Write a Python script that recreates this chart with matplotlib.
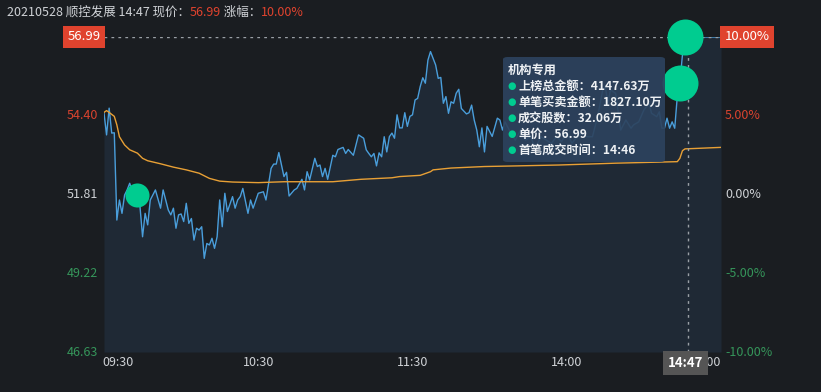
import matplotlib
matplotlib.use("Agg")
import matplotlib.pyplot as plt
from matplotlib.patches import FancyBboxPatch

plt.rcParams['font.family'] = ['Noto Sans CJK SC', 'DejaVu Sans']

# ---------------- data ----------------
stock_title = "20210528 顺控发展 14:47 现价："
cur_price = "56.99"
chg_label = " 涨幅："
chg_value = "10.00%"
prev_close = 51.81

price_min = [0, 1, 2, 3, 4, 5, 6, 7, 8, 9, 10, 11, 12, 13, 14, 15, 16, 17, 18, 20,
             22, 23, 25, 26, 27, 28, 29, 30, 31, 32, 33, 34, 35, 36, 37, 38, 39, 40,
             41, 42, 43, 44, 45, 46, 47, 48, 50, 51, 52, 53, 54, 56, 57, 58, 60, 62,
             63, 65, 66, 67, 68, 70, 71, 72, 74, 75, 77, 78, 79, 80, 82, 83, 84, 85,
             86, 87, 89, 90, 91, 93, 94, 95, 97, 99, 101, 102, 103, 104, 105, 106,
             107, 108, 109, 110, 111, 112, 113, 114, 115, 116, 117, 118, 119, 120,
             121, 122, 123, 124, 125, 126, 127, 129, 130, 131, 132, 133, 134, 135,
             136, 137, 138, 139, 141, 142, 143, 144, 145, 146, 147, 148, 149, 151,
             153, 154, 155, 156, 158, 160, 162, 164, 166, 167, 168, 170, 172, 174,
             176, 178, 180, 182, 184, 186, 188, 190, 192, 194, 195, 196, 197, 199,
             201, 203, 205, 206, 208, 210, 212, 213, 215, 216, 217, 218, 219, 220,
             221, 222, 223, 224, 225, 226, 240]
price_val = [54.49, 53.77, 54.65, 53.83, 53.84, 50.97, 51.63, 51.19, 51.79, 51.96,
             52.18, 51.90, 52.05, 51.85, 51.41, 50.42, 51.19, 50.81, 51.63, 51.96,
             51.36, 51.96, 51.30, 51.14, 51.36, 50.70, 51.14, 51.17, 50.92, 51.52,
             50.86, 51.02, 50.31, 50.70, 50.64, 50.75, 49.71, 50.20, 50.15, 50.37,
             50.04, 50.42, 51.63, 50.75, 51.85, 51.25, 51.74, 51.36, 51.63, 51.74,
             52.01, 51.19, 51.63, 51.36, 51.85, 51.90, 51.63, 52.67, 52.81, 52.81,
             53.19, 52.40, 52.54, 51.76, 51.96, 52.01, 52.31, 51.96, 52.56, 52.29,
             53.00, 52.73, 52.78, 52.40, 52.67, 52.31, 53.10, 53.05, 53.29, 53.36,
             53.16, 53.29, 53.10, 53.77, 53.66, 53.28, 53.16, 53.05, 53.16, 52.75,
             53.18, 53.05, 53.71, 53.21, 53.71, 53.83, 53.66, 54.43, 54.00, 54.00,
             54.50, 54.05, 54.38, 54.43, 54.92, 54.97, 55.36, 55.65, 55.47, 56.23,
             56.51, 56.07, 55.63, 55.66, 54.81, 55.03, 54.48, 54.86, 54.81, 55.14,
             55.27, 54.64, 54.46, 54.50, 54.75, 54.26, 53.93, 53.38, 54.00, 53.21,
             54.05, 53.72, 54.32, 54.26, 53.93, 54.20, 53.87, 53.60, 53.93, 53.60,
             53.71, 53.49, 53.38, 53.71, 53.60, 53.49, 53.71, 53.55, 53.85, 53.50,
             53.70, 53.82, 53.71, 53.71, 54.37, 55.25, 55.36, 54.81, 55.25, 55.14,
             53.93, 54.26, 53.99, 54.10, 54.20, 54.59, 54.81, 54.48, 54.37, 54.53,
             53.99, 53.99, 54.32, 53.99, 54.20, 53.99, 55.03, 55.49, 56.40, 56.99,
             56.99]

avg_min = [0, 1, 2, 4, 5, 6, 8, 10, 13, 15, 17, 22, 27, 32, 37, 41, 45, 50, 60, 70,
           89, 100, 112, 115, 123, 127, 128, 135, 148, 160, 177, 199, 223, 224, 225,
           226, 240]
avg_val = [54.51, 54.57, 54.51, 54.38, 54.10, 53.71, 53.44, 53.28, 53.17, 53.00,
           52.92, 52.82, 52.71, 52.62, 52.51, 52.34, 52.25, 52.22, 52.20, 52.23,
           52.23, 52.31, 52.36, 52.40, 52.44, 52.56, 52.62, 52.68, 52.73, 52.75,
           52.78, 52.84, 52.89, 53.00, 53.25, 53.31, 53.36]

# trade markers (minute index, price, kind)
mark_min = [13, 224, 226]
mark_val = [51.81, 55.49, 56.99]
mark_big = [False, True, True]

left_ticks = [56.99, 54.40, 51.81, 49.22, 46.63]
left_labels = ["56.99", "54.40", "51.81", "49.22", "46.63"]
right_labels = ["10.00%", "5.00%", "0.00%", "-5.00%", "-10.00%"]
time_ticks = [0, 60, 120, 180, 240]
time_labels = ["09:30", "10:30", "11:30", "14:00", "15:00"]
cursor_min = 227
cursor_label = "14:47"

tip_title = "机构专用"
tip_lines = ["上榜总金额：4147.63万", "单笔买卖金额：1827.10万", "成交股数：32.06万",
             "单价：56.99", "首笔成交时间：14:46"]

# ---------------- style ----------------
BG = "#1a1d21"
FILL = "#1f2935"
BLUE = "#4a9edb"
ORANGE = "#e8a035"
RED = "#e0432e"
RED_TXT = "#d9432f"
GREEN = "#35955a"
GRAY = "#cfd2d6"
MARK = "#00cc90"

W, H = 821, 392
fig = plt.figure(figsize=(W / 100, H / 100), dpi=100, facecolor=BG)
ax = fig.add_axes([104 / W, 40 / H, 617 / W, 315 / H])
ax.set_facecolor(BG)
ax.set_xlim(0, 240)
ax.set_ylim(46.63, 56.99)
for s in ax.spines.values():
    s.set_visible(False)
ax.set_xticks([])
ax.set_yticks([])

PX = 240 / 617  # minutes per pixel

ax.fill_between(price_min, price_val, 46.63, color=FILL, lw=0, zorder=1)
ax.plot(price_min, price_val, color=BLUE, lw=1.0, zorder=3)
ax.plot(avg_min, avg_val, color=ORANGE, lw=1.0, zorder=3)

# crosshair
ax.axhline(56.99, color="#9aa0a6", lw=1, ls=(0, (2, 3)), zorder=4)
ax.axvline(cursor_min, color="#9aa0a6", lw=1, ls=(0, (2, 3)), zorder=4)

for m, v, big in zip(mark_min, mark_val, mark_big):
    ax.scatter([m], [v], s=(672 if big else 300), color=MARK, lw=0, zorder=6, clip_on=False)

# y labels
lcolors = ["white", RED_TXT, GRAY, GREEN, GREEN]
for i, (t, lab, rlab) in enumerate(zip(left_ticks, left_labels, right_labels)):
    if i == 0:
        ax.text(-3.5 * PX, t, lab, ha="right", va="center",
                fontsize=9.5, color="white", zorder=8, clip_on=False,
                bbox=dict(boxstyle="square,pad=0.35", fc=RED, ec="none"))
        ax.text(240 + 3.5 * PX, t, rlab, ha="left", va="center", fontsize=9.5,
                color="white", zorder=8, clip_on=False,
                bbox=dict(boxstyle="square,pad=0.35", fc=RED, ec="none"))
    else:
        ax.text(-6 * PX, t, lab, ha="right", va="center", fontsize=9,
                color=lcolors[i])
        ax.text(240 + 4 * PX, t, rlab, ha="left", va="center", fontsize=9,
                color=lcolors[i])

# x labels
ytxt = 46.63 - 11 / 315 * (56.99 - 46.63)
for i, (tm, lab) in enumerate(zip(time_ticks, time_labels)):
    ha = "left" if i == 0 else ("right" if i == len(time_ticks) - 1 else "center")
    xx = tm - 1.5 * PX if i == 0 else tm
    ax.text(xx, ytxt, lab, ha=ha, va="center", fontsize=9, color=GRAY, clip_on=False)
ax.text(cursor_min - 0.8, ytxt, cursor_label, ha="center", va="center", fontsize=9.5,
        color="white", fontweight="bold", zorder=9, clip_on=False,
        bbox=dict(boxstyle="square,pad=0.35", fc="#555555", ec="none"))

# tooltip
tip = FancyBboxPatch((503 / W, 1 - 162 / H), 162 / W, 105 / H,
                     boxstyle="round,pad=0,rounding_size=0.006",
                     transform=fig.transFigure, fc="#2d435e", ec="none", alpha=0.92,
                     zorder=10)
fig.patches.append(tip)
fig.text(508 / W, 1 - 70 / H, tip_title, ha="left", va="center", fontsize=8.8,
         color="#eef1f4", fontweight="bold", zorder=11)
ys = [86, 102, 118, 134, 150]
for yy, line in zip(ys, tip_lines):
    fig.text(511.5 / W, 1 - yy / H, "●", ha="center", va="center", fontsize=7,
             color=MARK, zorder=11, family="DejaVu Sans")
    fig.text(518 / W, 1 - yy / H, line, ha="left", va="center", fontsize=8.7,
             color="#eef1f4", fontweight="bold", zorder=11)

# header title
pieces = [(stock_title, GRAY), (cur_price, RED), (chg_label, GRAY), (chg_value, RED)]
fig.canvas.draw()
rend = fig.canvas.get_renderer()
x = 7
for txt, col in pieces:
    t = fig.text(x / W, 1 - 12 / H, txt, ha="left", va="center", fontsize=9, color=col)
    bb = t.get_window_extent(renderer=rend)
    x += bb.width

fig.savefig("out.png", dpi=100, facecolor=BG)
